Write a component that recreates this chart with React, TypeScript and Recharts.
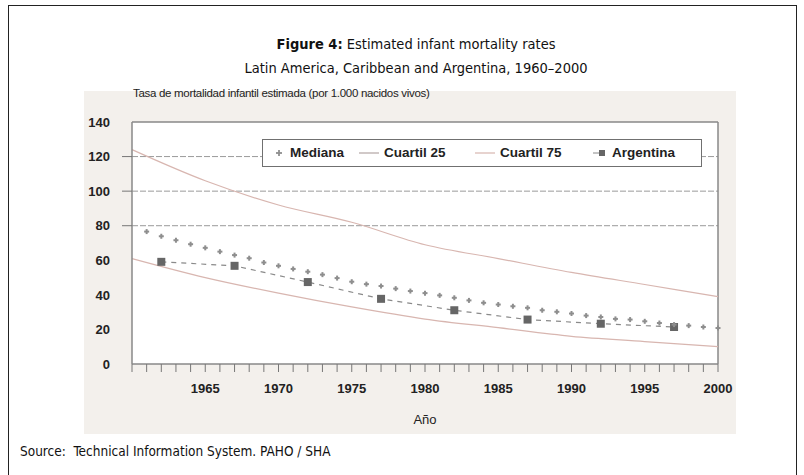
import { LineChart, Line, XAxis, YAxis, CartesianGrid, ReferenceLine, Legend } from "recharts";

// Mediana: one marker per year, 1961-2000
const medianaYears = [
  1961, 1962, 1963, 1964, 1965, 1966, 1967, 1968, 1969, 1970,
  1971, 1972, 1973, 1974, 1975, 1976, 1977, 1978, 1979, 1980,
  1981, 1982, 1983, 1984, 1985, 1986, 1987, 1988, 1989, 1990,
  1991, 1992, 1993, 1994, 1995, 1996, 1997, 1998, 1999, 2000,
];
const medianaValues = [
  76.6, 73.9, 71.6, 69.3, 67.2, 65.0, 63.0, 61.2, 58.7, 56.8,
  55.0, 53.4, 51.7, 49.7, 47.6, 46.2, 45.1, 43.6, 42.2, 41.0,
  39.7, 38.3, 36.8, 35.4, 34.4, 33.4, 32.5, 31.1, 30.2, 29.2,
  28.0, 27.2, 26.1, 25.7, 24.7, 23.7, 22.8, 22.2, 21.4, 20.8,
];

const quartileYears = [1960, 1965, 1970, 1975, 1980, 1985, 1990, 1995, 2000];
const cuartil25Values = [61, 50, 41, 33, 26, 21, 16, 13, 10];
const cuartil75Values = [124, 106, 92, 82, 69, 61, 53, 46, 39];

const argentinaYears = [1962, 1967, 1972, 1977, 1982, 1987, 1992, 1997];
const argentinaValues = [59.1, 56.8, 47.4, 37.7, 31.1, 25.7, 23.3, 21.4];

const seriesOrder = ["Mediana", "Cuartil 25", "Cuartil 75", "Argentina"];
const yTicks = [0, 20, 40, 60, 80, 100, 120, 140];
const gridValues = [80, 100, 120];
const yearTicks = Array.from({ length: 41 }, (_, i) => 1960 + i);
const labelledYears = [1965, 1970, 1975, 1980, 1985, 1990, 1995, 2000];

const medianaData = medianaYears.map((year, i) => ({ year, value: medianaValues[i] }));
const c25Data = quartileYears.map((year, i) => ({ year, value: cuartil25Values[i] }));
const c75Data = quartileYears.map((year, i) => ({ year, value: cuartil75Values[i] }));
const argentinaData = argentinaYears.map((year, i) => ({ year, value: argentinaValues[i] }));

const chartFont = '"Liberation Sans", Arial, sans-serif';
const narrowFont = '"Liberation Sans Narrow", "DejaVu Sans Condensed", "Liberation Sans", sans-serif';

const QUART_COLOR = "#d8b6b0";
const MED_COLOR = "#8e8e8e";
const ARG_COLOR = "#666";

function PlusDot(props: any) {
  const { cx, cy, index } = props;
  if (cx == null || cy == null) return null;
  return (
    <g key={`m-${index}`}>
      <line x1={cx - 2.5} x2={cx + 2.5} y1={cy} y2={cy} stroke={MED_COLOR} strokeWidth={2} />
      <line x1={cx} x2={cx} y1={cy - 2.5} y2={cy + 2.5} stroke={MED_COLOR} strokeWidth={2} />
    </g>
  );
}

function SquareDot(props: any) {
  const { cx, cy, index } = props;
  if (cx == null || cy == null) return null;
  return <rect key={`a-${index}`} x={cx - 4} y={cy - 4} width={8} height={8} fill={ARG_COLOR} />;
}

function YTick(props: any) {
  const { x, y, payload } = props;
  return (
    <g>
      {gridValues.includes(payload.value) && (
        <line x1={x + 12} x2={x + 22} y1={y} y2={y} stroke="#777" strokeWidth={1} />
      )}
      <text x={x} y={y} dy="0.36em" textAnchor="end" fontSize={13} fontWeight={700} fill="#222" fontFamily={chartFont}>
        {payload.value}
      </text>
    </g>
  );
}

function LegendIcon({ name }: { name: string }) {
  if (name === "Mediana")
    return (
      <svg width={12} height={12}>
        <line x1={3} x2={9} y1={6} y2={6} stroke={MED_COLOR} strokeWidth={1.8} />
        <line x1={6} x2={6} y1={3} y2={9} stroke={MED_COLOR} strokeWidth={1.8} />
      </svg>
    );
  if (name === "Argentina")
    return (
      <svg width={14} height={12}>
        <line x1={0} x2={6} y1={6} y2={6} stroke="#888" strokeWidth={1} />
        <rect x={6} y={3} width={6} height={6} fill={ARG_COLOR} />
      </svg>
    );
  return (
    <svg width={20} height={12}>
      <line x1={0} x2={20} y1={6} y2={6} stroke={name === "Cuartil 25" ? "#b3a5a3" : QUART_COLOR} strokeWidth={1.2} />
    </svg>
  );
}

function LegendBox(props: any) {
  const items = [...(props.payload || [])].sort(
    (a: any, b: any) => seriesOrder.indexOf(a.value) - seriesOrder.indexOf(b.value)
  );
  const lefts = [10, 96, 212, 330];
  return (
    <div
      style={{
        position: "relative",
        boxSizing: "border-box",
        width: 440,
        height: 28,
        border: "1.5px solid #707070",
        background: "#fff",
        fontFamily: chartFont,
        fontWeight: 700,
        fontSize: 13.5,
        color: "#222",
      }}
    >
      {items.map((item: any, i: number) => (
        <div
          key={item.value}
          style={{ position: "absolute", left: lefts[i], top: 5, display: "flex", alignItems: "center", gap: 5 }}
        >
          <LegendIcon name={item.value} />
          <span>{item.value}</span>
        </div>
      ))}
    </div>
  );
}

export default function App() {
  return (
    <div style={{ position: "absolute", left: 0, top: 0, width: 804, height: 475, background: "#fff", overflow: "hidden" }}>
      <div
        style={{
          position: "absolute",
          left: 8,
          top: 5,
          width: 787,
          height: 490,
          border: "1.5px solid #222",
        }}
      />
      <div
        style={{
          position: "absolute",
          left: 16,
          top: 35,
          width: 800,
          textAlign: "center",
          fontFamily: narrowFont,
          fontSize: 14.5,
          lineHeight: "18px",
          color: "#111",
        }}
      >
        <div>
          <b>Figure 4:</b> Estimated infant mortality rates
        </div>
        <div style={{ marginTop: 6 }}>Latin America, Caribbean and Argentina, 1960–2000</div>
      </div>

      <div style={{ position: "absolute", left: 84, top: 91, width: 652, height: 343, background: "#f3f0ec" }}>
        <div
          style={{
            position: "absolute",
            left: 49,
            top: -4,
            fontFamily: chartFont,
            fontSize: 11.5,
            letterSpacing: -0.3,
            color: "#222",
            whiteSpace: "nowrap",
          }}
        >
          Tasa de mortalidad infantil estimada (por 1.000 nacidos vivos)
        </div>
        <LineChart width={652} height={343} margin={{ top: 31, right: 18, bottom: 0, left: 0 }}>
          <CartesianGrid fill="#fff" horizontal={false} vertical={false} />
          {gridValues.map((v) => (
            <ReferenceLine key={v} y={v} stroke="#9a9a9a" strokeDasharray="6 2" strokeWidth={1} />
          ))}
          <XAxis
            dataKey="year"
            type="number"
            domain={[1960, 2000]}
            ticks={yearTicks}
            interval={0}
            allowDuplicatedCategory={false}
            tickFormatter={(v: number) => (labelledYears.includes(v) ? String(v) : "")}
            tickSize={8}
            tickMargin={12}
            tickLine={{ stroke: "#777" }}
            axisLine={{ stroke: "#888", strokeWidth: 1.5 }}
            tick={{ fontSize: 13, fontWeight: 700, fill: "#222", fontFamily: chartFont }}
            height={70}
            label={{ value: "Año", position: "insideBottom", offset: 10, fontSize: 13, fill: "#222", fontFamily: chartFont }}
          />
          <YAxis
            type="number"
            domain={[0, 140]}
            ticks={yTicks}
            interval={0}
            width={48}
            tickLine={false}
            tickSize={10}
            tickMargin={12}
            axisLine={{ stroke: "#888", strokeWidth: 1.5 }}
            tick={<YTick />}
          />
          <ReferenceLine y={140} stroke="#888" strokeWidth={1.5} />
          <ReferenceLine x={2000} stroke="#888" strokeWidth={1.5} />
          <Legend
            layout="horizontal"
            verticalAlign="middle"
            align="center"
            content={<LegendBox />}
            wrapperStyle={{ position: "absolute", left: 178, top: 48, width: 440, height: 28 }}
          />
          <Line
            data={c75Data}
            dataKey="value"
            name="Cuartil 75"
            type="monotone"
            stroke={QUART_COLOR}
            strokeWidth={1.2}
            dot={false}
            isAnimationActive={false}
          />
          <Line
            data={c25Data}
            dataKey="value"
            name="Cuartil 25"
            type="monotone"
            stroke={QUART_COLOR}
            strokeWidth={1.2}
            dot={false}
            isAnimationActive={false}
          />
          <Line
            data={argentinaData}
            dataKey="value"
            name="Argentina"
            type="linear"
            stroke="#8a8a8a"
            strokeWidth={1.2}
            strokeDasharray="5 5"
            dot={<SquareDot />}
            isAnimationActive={false}
          />
          <Line
            data={medianaData}
            dataKey="value"
            name="Mediana"
            type="linear"
            stroke="none"
            dot={<PlusDot />}
            isAnimationActive={false}
          />
        </LineChart>
      </div>

      <div
        style={{
          position: "absolute",
          left: 20,
          top: 443,
          fontFamily: narrowFont,
          fontSize: 13.5,
          color: "#111",
          whiteSpace: "pre",
        }}
      >
        {"Source:  Technical Information System. PAHO / SHA"}
      </div>
    </div>
  );
}
